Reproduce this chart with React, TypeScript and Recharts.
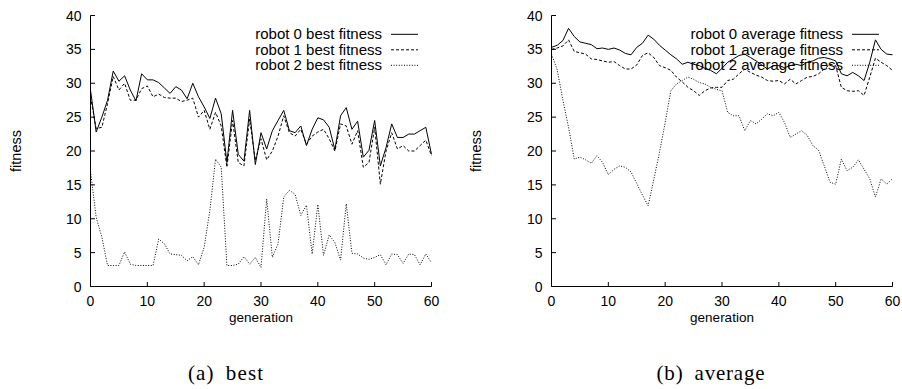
import React from 'react';
import { LineChart, Line, XAxis, YAxis, Legend } from 'recharts';

const xTicks = [0, 10, 20, 30, 40, 50, 60];
const yTicks = [0, 5, 10, 15, 20, 25, 30, 35, 40];

const best0 = [29, 22.8, 25, 27.5, 31.8, 30.3, 31.1, 29, 27.4, 31.4, 30.5, 30.5, 30.1, 29.3, 28.5, 29.5, 29, 27.7, 30, 28, 26.5, 24.8, 27.8, 25.5, 18.3, 26, 19.5, 18.5, 26, 18, 22.7, 20.3, 23, 24.5, 26, 23, 22.7, 23.7, 20.8, 23.2, 24.9, 24.6, 23.5, 20.2, 25.2, 26.4, 23.2, 24.4, 19.1, 20.1, 24.5, 17.8, 20.5, 24, 22, 22, 22.5, 22.5, 23, 23.5, 19.5];
const best1 = [28, 23.3, 23.5, 27, 31, 29, 30, 27.5, 27.5, 29.2, 29.6, 28, 28.4, 27.9, 27.8, 27.8, 27.3, 27.5, 27.8, 25, 26, 23.2, 25.7, 23.7, 17.6, 24.5, 18.3, 17.8, 24.7, 18.6, 21.8, 18.7, 20, 22.2, 25.2, 22.7, 22.2, 23.2, 21, 22.2, 22.8, 23.2, 21.8, 20, 24, 23.7, 21, 23, 17.6, 18.3, 23.5, 15.1, 20, 22.7, 20.3, 20.8, 20, 20, 20.8, 21.6, 19.3];
const best2 = [17, 10.2, 7.3, 3.1, 3.1, 3.1, 5.1, 3.3, 3.1, 3.1, 3.1, 3.1, 7, 6.3, 4.8, 4.7, 4.6, 3.8, 4.4, 3.2, 5.8, 11.2, 18.8, 17.6, 3.1, 3.1, 3.3, 4.4, 3.3, 4.3, 2.8, 12.9, 4.3, 6.3, 13.2, 14.2, 13.6, 10.5, 12, 4.8, 12.1, 4.6, 7.6, 6.5, 3.9, 12.2, 4.9, 4.8, 4.2, 4, 4.3, 4.7, 3.2, 4.8, 4.7, 3.4, 4.8, 4.7, 3.2, 4.8, 3.5];

const avg0 = [35.3, 35.6, 36.3, 38.1, 36.9, 36.1, 35.9, 35.7, 35.1, 35.2, 35, 35.2, 34.9, 34.4, 34.2, 35.3, 35.9, 37.1, 36.5, 35.6, 34.9, 34.2, 33.6, 32.8, 33.1, 32.8, 32.6, 32.2, 31.9, 31.4, 32.2, 33.1, 33.6, 34.1, 34.3, 33.8, 33.3, 32.7, 32.1, 32.6, 32.6, 32.3, 32.6, 32.8, 32.6, 33.1, 33.3, 33.7, 33.8, 33.6, 33.3, 31.4, 31.1, 31.6, 31.1, 30.4, 33.1, 36.4, 35, 34.3, 34.2];
const avg1 = [35, 35.2, 35.5, 36.4, 34.7, 34.5, 34.3, 33.6, 33.5, 33.3, 33.1, 33.2, 32.6, 32.1, 32.1, 32.7, 34.1, 34.5, 33.8, 32.6, 32.3, 31.9, 30.9, 30.2, 29.4, 28.9, 28.2, 28.9, 29.3, 29.4, 29.4, 30.4, 30.6, 31.4, 32.1, 31.6, 31.2, 30.9, 30.4, 30.3, 30.4, 29.9, 30.6, 29.9, 30.4, 30.9, 31, 31.4, 32.1, 32.8, 32.6, 29.4, 28.9, 28.8, 28.9, 28.2, 30.9, 33.7, 33.1, 32.6, 31.9];
const avg2 = [34.3, 32, 27.5, 23.5, 18.8, 19.1, 18.7, 18.2, 19.3, 18.3, 16.5, 17.3, 17.8, 17.6, 16.9, 15.2, 13.5, 11.9, 15.8, 19.8, 24.2, 28.9, 29.9, 30.4, 30.9, 30.6, 30.1, 29.9, 29.4, 29.1, 28.9, 25.7, 25.2, 25.2, 23, 24.5, 24, 24.7, 25.5, 25.2, 25.7, 24.2, 22, 22.5, 23, 22.3, 20.8, 20.1, 17.8, 15.4, 15.1, 18.8, 17.1, 17.6, 18.7, 17.3, 15.9, 13.2, 15.9, 15.1, 15.9];

const bestNames = ['robot 0 best fitness', 'robot 1 best fitness', 'robot 2 best fitness'];
const avgNames = ['robot 0 average fitness', 'robot 1 average fitness', 'robot 2 average fitness'];

const dashes = [undefined, '3 2', '1 1.6'];

const SANS = '"Liberation Sans", Arial, Helvetica, sans-serif';
const SERIF = '"Liberation Serif", "Times New Roman", serif';

const build = (a: number[], b: number[], c: number[]) =>
  a.map((v, i) => ({ g: i, s0: v, s1: b[i], s2: c[i] }));

const bestData = build(best0, best1, best2);
const avgData = build(avg0, avg1, avg2);

const TICK = 4.5;

const BottomTick = (p: any) => (
  <g>
    <line x1={p.x} y1={p.y} x2={p.x} y2={p.y - TICK} stroke="#000" strokeWidth={1} />
    <text x={p.x} y={p.y + 19.5} textAnchor="middle" fontSize={14} fontFamily={SANS} fill="#000">
      {p.payload.value}
    </text>
  </g>
);
const TopTick = (p: any) => (
  <line x1={p.x} y1={p.y} x2={p.x} y2={p.y + TICK} stroke="#000" strokeWidth={1} />
);
const LeftTick = (p: any) => (
  <g>
    <line x1={p.x} y1={p.y} x2={p.x + TICK} y2={p.y} stroke="#000" strokeWidth={1} />
    <text x={p.x - 9} y={p.y + 5} textAnchor="end" fontSize={14} fontFamily={SANS} fill="#000">
      {p.payload.value}
    </text>
  </g>
);
const RightTick = (p: any) => (
  <line x1={p.x} y1={p.y} x2={p.x - TICK} y2={p.y} stroke="#000" strokeWidth={1} />
);

const makeLegend = (names: string[]) => () => (
  <svg width={210} height={52} style={{ display: 'block', overflow: 'visible' }}>
    {names.map((n, i) => (
      <g key={n}>
        <text x={162} y={10.3 + i * 15.5 + 5} textAnchor="end" fontSize={15} fontFamily={SANS} fill="#000">
          {n}
        </text>
        <line x1={171} x2={198} y1={10.3 + i * 15.5} y2={10.3 + i * 15.5} stroke="#000" strokeWidth={1} strokeDasharray={dashes[i]} />
      </g>
    ))}
  </svg>
);

const Panel = ({ data, names, labelX }: { data: any[]; names: string[]; labelX: number }) => (
  <LineChart width={450} height={330} data={data} margin={{ top: 15.5, right: 18.5, bottom: 0, left: 0 }}>
    <XAxis
      xAxisId="b"
      dataKey="g"
      type="number"
      domain={[0, 60]}
      ticks={xTicks}
      height={43.5}
      tickSize={0}
      tickMargin={0}
      tickLine={false}
      axisLine={{ stroke: '#000', strokeWidth: 1 }}
      tick={<BottomTick />}
      interval={0}
      label={{
        content: (p: any) => (
          <text
            x={p.viewBox.x + p.viewBox.width / 2}
            y={p.viewBox.y + 35.5}
            textAnchor="middle"
            fontSize={13.5}
            fontFamily={SANS}
            fill="#000"
          >
            generation
          </text>
        ),
      }}
    />
    <XAxis
      xAxisId="t"
      orientation="top"
      dataKey="g"
      type="number"
      domain={[0, 60]}
      ticks={xTicks}
      height={0}
      tickSize={0}
      tickMargin={0}
      tickLine={false}
      axisLine={{ stroke: '#000', strokeWidth: 1 }}
      tick={<TopTick />}
      interval={0}
    />
    <YAxis
      yAxisId="l"
      type="number"
      domain={[0, 40]}
      ticks={yTicks}
      width={90.5}
      tickSize={0}
      tickMargin={0}
      tickLine={false}
      axisLine={{ stroke: '#000', strokeWidth: 1 }}
      tick={<LeftTick />}
      interval={0}
      label={{
        content: (p: any) => {
          const cx = p.viewBox.x + labelX;
          const cy = p.viewBox.y + p.viewBox.height / 2;
          return (
            <text
              x={cx}
              y={cy}
              transform={`rotate(-90, ${cx}, ${cy})`}
              textAnchor="middle"
              dominantBaseline="central"
              fontSize={14.5}
              fontFamily={SANS}
              fill="#000"
            >
              fitness
            </text>
          );
        },
      }}
    />
    <YAxis
      yAxisId="r"
      orientation="right"
      type="number"
      domain={[0, 40]}
      ticks={yTicks}
      width={0}
      tickSize={0}
      tickMargin={0}
      tickLine={false}
      axisLine={{ stroke: '#000', strokeWidth: 1 }}
      tick={<RightTick />}
      interval={0}
    />
    <Legend
      layout="vertical"
      align="center"
      verticalAlign="middle"
      wrapperStyle={{ left: 220, top: 24, width: 210, height: 52 }}
      content={makeLegend(names)}
    />
    {['s0', 's1', 's2'].map((k, i) => (
      <Line
        key={k}
        xAxisId="b"
        yAxisId="l"
        type="linear"
        dataKey={k}
        name={names[i]}
        stroke="#000"
        strokeWidth={1}
        strokeDasharray={dashes[i]}
        dot={false}
        activeDot={false}
        isAnimationActive={false}
      />
    ))}
  </LineChart>
);

export default function App() {
  return (
    <div style={{ position: 'absolute', left: 0, top: 0, width: 902, height: 389, background: '#fff', fontFamily: SANS }}>
      <div style={{ position: 'absolute', left: 0, top: 0 }}>
        <Panel data={bestData} names={bestNames} labelX={16} />
      </div>
      <div style={{ position: 'absolute', left: 461, top: 0 }}>
        <Panel data={avgData} names={avgNames} labelX={15} />
      </div>
      <svg width={902} height={389} style={{ position: 'absolute', left: 0, top: 0, pointerEvents: 'none' }}>
        <text x={226} y={380} textAnchor="middle" fontSize={21} fontFamily={SERIF} letterSpacing={1.1} wordSpacing={5} fill="#000">
          (a) best
        </text>
        <text x={711} y={380} textAnchor="middle" fontSize={21} fontFamily={SERIF} letterSpacing={0.8} wordSpacing={5} fill="#000">
          (b) average
        </text>
      </svg>
    </div>
  );
}
